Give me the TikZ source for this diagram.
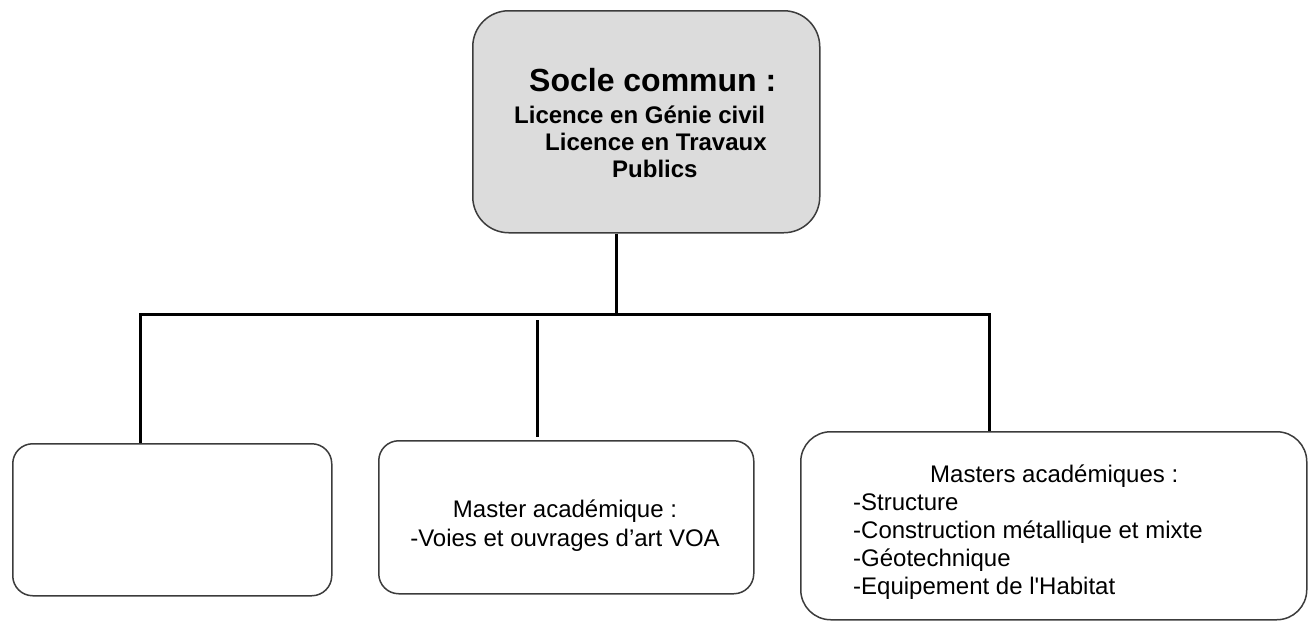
\documentclass[tikz,border=0pt]{standalone}
\usepackage{fontspec}
\setmainfont{Liberation Sans}[Ligatures=TeXOff]
\definecolor{topfill}{RGB}{220,220,220}
\definecolor{edge}{RGB}{60,60,60}
\tikzset{
  box/.style={draw=edge, line width=1.5pt, rounded corners=20pt, inner sep=0pt, anchor=north west, fill=white},
  conn/.style={draw=black, line width=3pt},
  lbl/.style={inner sep=0pt, anchor=base west, font=\fontsize{24}{28}\selectfont},
  lblb/.style={lbl, font=\fontsize{24}{28}\selectfont\bfseries},
}
\begin{document}
\begin{tikzpicture}[x=1pt,y=-1pt]
\useasboundingbox (0,0) rectangle (1311,621);
% boxes
\node[box, fill=topfill, rounded corners=36pt, minimum width=347pt, minimum height=222pt] (top) at (472,10) {};
\node[box, minimum width=319pt, minimum height=152pt] (left) at (12,443) {};
\node[box, minimum width=375pt, minimum height=153pt] (mid) at (378,440) {};
\node[box, rounded corners=30pt, minimum width=506pt, minimum height=188pt] (right) at (800,431) {};
% junction coordinates
\coordinate (jt) at (616,314);
\coordinate (jl) at (140,314);
\coordinate (jr) at (989,314);
\coordinate (jm) at (537,320);
% connectors
\draw[conn] (top.south -| jt) -- (jt);
\draw[conn] (left.north -| jl) -- (jl) -- (jr) -- (right.north -| jr);
\draw[conn] (jm) -- ([yshift=3pt]mid.north -| jm);
% top text
\node[lblb, font=\fontsize{32}{36}\selectfont\bfseries] (t1) at (529,91) {Socle commun :};
\node[lblb] (t2) at (514,123) {Licence en Génie civil};
\node[lblb] (t3) at (545,150) {Licence en Travaux};
\node[lblb] (t4) at (612,177) {Publics};
% middle text
\node[lbl, anchor=base] (m1) at (565,517) {Master académique :};
\node[lbl, anchor=base] (m2) at (565,546) {-Voies et ouvrages d’art VOA};
% right text
\node[lbl] (r1) at (930,482) {Masters académiques :};
\node[lbl] (r2) at (853,510) {-Structure};
\node[lbl] (r3) at (853,538) {-Construction métallique et mixte};
\node[lbl] (r4) at (853,566) {-Géotechnique};
\node[lbl] (r5) at (853,594) {-Equipement de l'Habitat};
\end{tikzpicture}
\end{document}
